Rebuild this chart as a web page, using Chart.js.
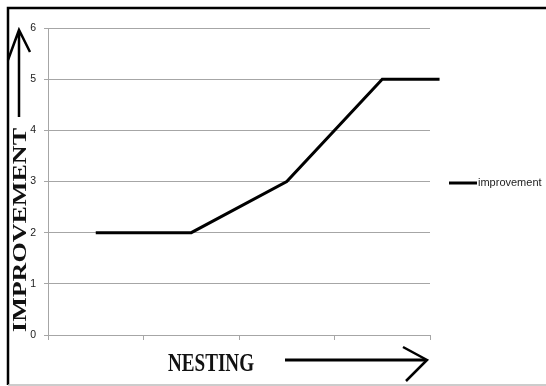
<!DOCTYPE html>
<html>
<head>
<meta charset="utf-8">
<script src="https://cdn.jsdelivr.net/npm/chart.js@4/dist/chart.umd.min.js"></script>
<style>
  html, body { margin: 0; padding: 0; background: #fff; }
  #wrap { width: 546px; height: 386px; }
</style>
</head>
<body>
<div id="wrap"><canvas id="chart" width="546" height="386"></canvas></div>
<script>
// data
const nestingLevels = [0.5, 1.5, 2.5, 3.5, 4.1];
const improvementValues = [2, 2, 3, 5, 5];
const yTicks = [0, 1, 2, 3, 4, 5, 6];
const seriesName = "improvement";
const xTitle = "NESTING";
const yTitle = "IMPROVEMENT";

const points = nestingLevels.map((x, i) => ({ x, y: improvementValues[i] }));

// draw text squeezed/stretched to a measured box
function fitText(ctx, text, cx, cy, width, capH, angle) {
  const size = capH / 0.66;
  ctx.save();
  ctx.font = "bold " + size + "px 'Liberation Serif', 'Times New Roman', serif";
  const w = ctx.measureText(text).width;
  ctx.translate(cx, cy);
  ctx.rotate(angle);
  ctx.scale(width / w, 1);
  ctx.fillStyle = "#111";
  ctx.textAlign = "center";
  ctx.textBaseline = "alphabetic";
  ctx.fillText(text, 0, capH / 2);
  ctx.restore();
}

const decorations = {
  id: "decorations",
  afterDraw(chart) {
    const ctx = chart.ctx;
    ctx.save();

    // outer frame
    ctx.strokeStyle = "#000";
    ctx.lineWidth = 2.5;
    ctx.beginPath();
    ctx.moveTo(8, 385);
    ctx.lineTo(8, 8);
    ctx.lineTo(546, 8);
    ctx.stroke();
    ctx.strokeStyle = "#bbb";
    ctx.lineWidth = 1.5;
    ctx.beginPath();
    ctx.moveTo(8, 385);
    ctx.lineTo(546, 385);
    ctx.stroke();

    // axis titles
    fitText(ctx, yTitle, 19, 230, 204, 13, -Math.PI / 2);
    fitText(ctx, xTitle, 211, 362, 86, 17, 0);

    // hand drawn arrows
    ctx.strokeStyle = "#000";
    ctx.lineWidth = 2.5;
    ctx.lineCap = "butt";
    ctx.beginPath();
    ctx.moveTo(19, 117);
    ctx.lineTo(19, 30);
    ctx.moveTo(8, 60);
    ctx.lineTo(19, 30);
    ctx.lineTo(30, 52);
    ctx.stroke();

    ctx.lineWidth = 3;
    ctx.beginPath();
    ctx.moveTo(285, 360);
    ctx.lineTo(426, 360);
    ctx.stroke();
    ctx.lineWidth = 2.5;
    ctx.beginPath();
    ctx.moveTo(403, 347);
    ctx.lineTo(427, 360);
    ctx.lineTo(406, 381);
    ctx.stroke();

    // legend
    ctx.lineWidth = 3;
    ctx.beginPath();
    ctx.moveTo(449, 183);
    ctx.lineTo(477, 183);
    ctx.stroke();
    ctx.fillStyle = "#222";
    ctx.font = "11px 'Liberation Sans', Arial, sans-serif";
    ctx.textBaseline = "middle";
    ctx.textAlign = "left";
    ctx.fillText(seriesName, 478, 183);
    ctx.restore();
  }
};

new Chart(document.getElementById("chart"), {
  type: "line",
  data: {
    datasets: [{
      label: seriesName,
      data: points,
      borderColor: "#000",
      borderWidth: 3,
      pointRadius: 0,
      tension: 0,
      fill: false,
      clip: false
    }]
  },
  options: {
    responsive: false,
    animation: false,
    devicePixelRatio: 1,
    layout: { padding: { top: 28, left: 0, right: 116, bottom: 0 } },
    plugins: {
      legend: { display: false },
      tooltip: { enabled: false }
    },
    scales: {
      x: {
        type: "linear",
        min: 0,
        max: 4,
        ticks: { stepSize: 1, callback: () => "", padding: 0 },
        grid: { drawOnChartArea: false, color: "#a6a6a6", tickLength: 5 },
        border: { color: "#a6a6a6" },
        afterFit: s => { s.height = 51; }
      },
      y: {
        min: 0,
        max: 6,
        afterBuildTicks: s => { s.ticks = yTicks.map(v => ({ value: v })); },
        ticks: {
          color: "#222",
          padding: 8,
          font: { size: 10.5, family: "'Liberation Sans', Arial, sans-serif" }
        },
        grid: { color: "#a6a6a6", tickLength: 4 },
        border: { color: "#a6a6a6" },
        afterFit: s => { s.width = 48; }
      }
    }
  },
  plugins: [decorations]
});
</script>
</body>
</html>
